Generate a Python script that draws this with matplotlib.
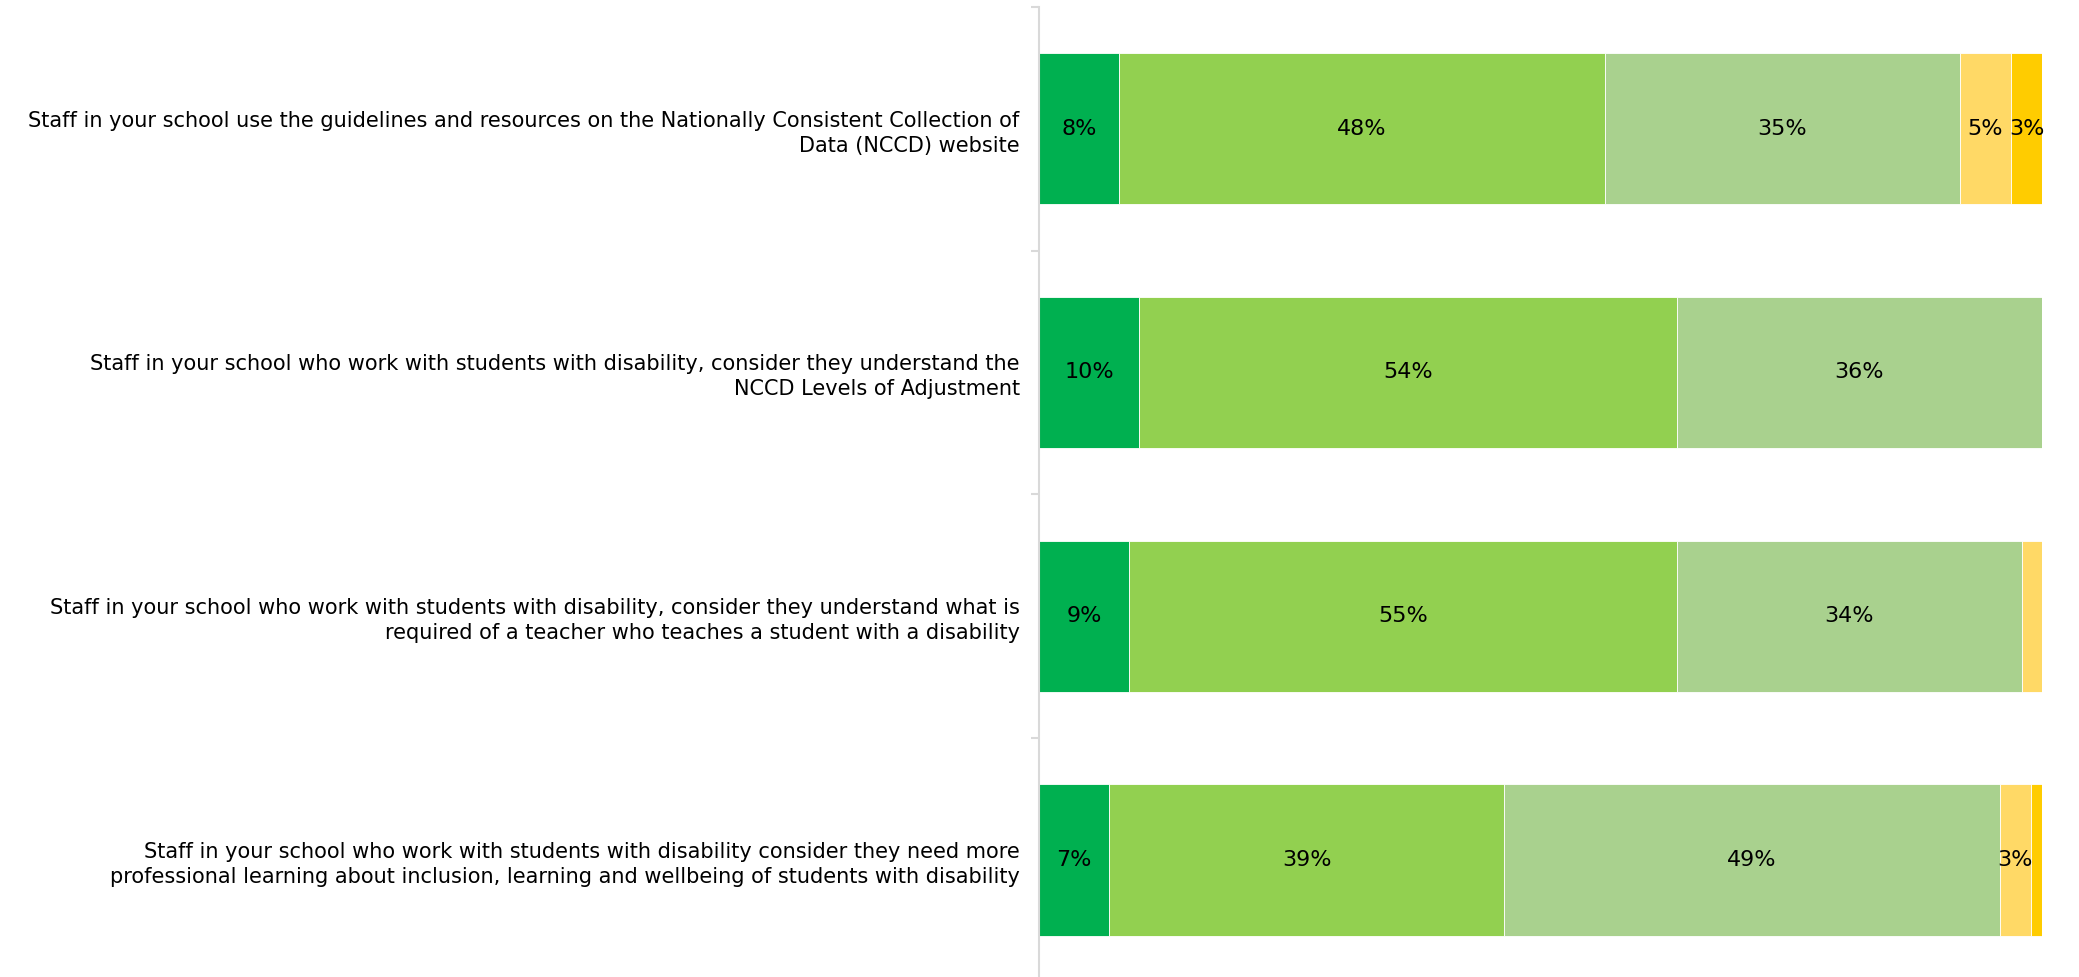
import matplotlib
matplotlib.use('Agg')
import matplotlib.pyplot as plt
import numpy as np

questions = [
    'Staff in your school use the guidelines and resources on the Nationally Consistent Collection of\nData (NCCD) website',
    'Staff in your school who work with students with disability, consider they understand the\nNCCD Levels of Adjustment',
    'Staff in your school who work with students with disability, consider they understand what is\nrequired of a teacher who teaches a student with a disability',
    'Staff in your school who work with students with disability consider they need more\nprofessional learning about inclusion, learning and wellbeing of students with disability',
]

# response shares (%) per question, one list per response level
strongly_agree = [8.0, 10.0, 9.0, 7.0]
agree = [48.4, 53.6, 54.6, 39.4]
neutral = [35.4, 36.4, 34.4, 49.4]
disagree = [5.1, 0.0, 2.0, 3.1]
strongly_disagree = [3.1, 0.0, 0.0, 1.1]

series = [strongly_agree, agree, neutral, disagree, strongly_disagree]
colors = ['#00B050', '#92D050', '#A9D18E', '#FFD966', '#FFCC00']

fig = plt.figure(figsize=(20.79, 9.77), dpi=100)
ax = fig.add_axes([0.4998, -0.005, 0.4824, 0.998])

y = np.arange(len(questions))
left = np.zeros(len(questions))
for vals, col in zip(series, colors):
    vals = np.array(vals)
    bars = ax.barh(y, vals, left=left, height=0.62, color=col,
                   edgecolor='white', linewidth=0.6)
    for b, v in zip(bars, vals):
        if v >= 2.5:
            ax.text(b.get_x() + b.get_width() / 2, b.get_y() + b.get_height() / 2,
                    f'{v:.0f}%', ha='center', va='center', fontsize=16, color='black')
    left += vals

ax.set_xlim(0, 100)
ax.set_ylim(len(questions) - 0.5, -0.5)

for s in ['top', 'right', 'bottom']:
    ax.spines[s].set_visible(False)
ax.spines['left'].set_color('#D9D9D9')
ax.spines['left'].set_linewidth(1.5)
ax.set_xticks([])

# tick marks between categories, labels centred on each bar
ax.set_yticks(np.arange(len(questions) + 1) - 0.5)
ax.set_yticklabels([])
ax.tick_params(axis='y', which='major', length=6, width=1.5, color='#D9D9D9')
ax.set_yticks(y, minor=True)
ax.set_yticklabels(questions, minor=True, fontsize=15, linespacing=1.3)
ax.tick_params(axis='y', which='minor', length=0, pad=14)

fig.savefig('out.png', dpi=100)
